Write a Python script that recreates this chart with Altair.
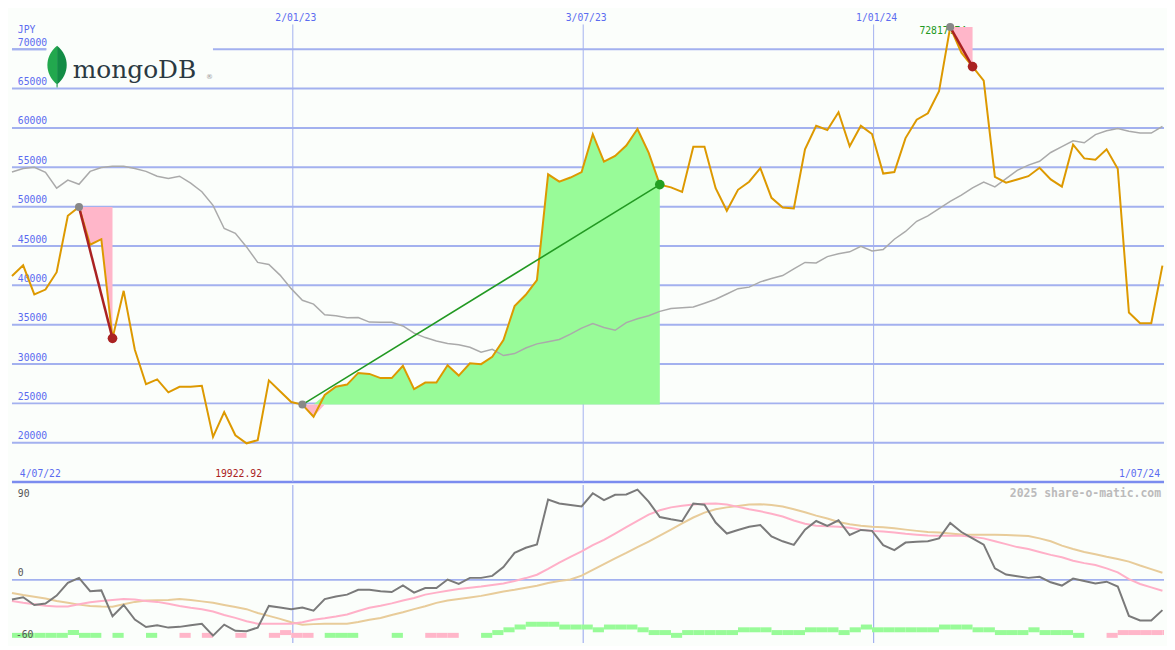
import altair as alt
import pandas as pd
import numpy as np

# ---------------- data ----------------
dates = [d.strftime("%Y-%m-%d") for d in pd.date_range("2022-07-10", periods=104, freq="7D")]
dates_next = dates[1:] + ["2024-07-08"]

price = [41180, 42540, 38840, 39460, 41670, 48850, 49960, 45160, 45860, 33260,
         39300, 31820, 27430, 28040, 26400, 27100, 27100, 27230, 20740, 23900,
         20950, 19922.92, 20330, 27920, 26530, 25170, 24850, 23310, 26070, 27110,
         27390, 28870, 28740, 28210, 28210, 29770, 26810, 27640, 27640, 29850,
         28530, 30100, 29980, 30920, 33050, 37360, 38800, 40650, 54110, 53170,
         53700, 54400, 59200, 55710, 56450, 57770, 59860, 56860, 52800, 52450,
         51860, 57600, 57600, 52350, 49470, 52140, 53170, 54890, 51120, 49890,
         49760, 57280, 60270, 59740, 61990, 57680, 60270, 59230, 54200, 54400,
         58710, 61050, 61870, 64660, 72817.74, 69570, 67800, 66000, 53780, 53040,
         53440, 53870, 54940, 53460, 52550, 57890, 56130, 55960, 57280, 54810,
         36540, 35180, 35180, 42500]

ma = [54400, 54850, 55010, 54360, 52350, 53370, 52840, 54480, 54970, 55130,
      55130, 54850, 54480, 53870, 53580, 53870, 53000, 51900, 50170, 47220,
      46600, 44880, 42910, 42660, 41300, 39580, 38100, 37610, 36260, 36130,
      35890, 35920, 35330, 35310, 35310, 34840, 33920, 33360, 32930, 32620,
      32440, 32130, 31510, 31880, 31080, 31330, 32030, 32560, 32840, 33120,
      33790, 34570, 35150, 34650, 34290, 35270, 35760, 36130, 36690, 37060,
      37140, 37240, 37730, 38230, 38900, 39580, 39770, 40440, 40870, 41240,
      42080, 42910, 42850, 43650, 44010, 44260, 44960, 44380, 44540, 45860,
      46850, 48140, 48820, 49740, 50660, 51460, 52390, 53130, 52510, 53560,
      54600, 55280, 55770, 56880, 57620, 58360, 58110, 59160, 59650, 59940,
      59590, 59350, 59350, 60210]

osc = [-18.6, -16.5, -23.8, -22.5, -14.9, -2.9, 1.9, -10.8, -10.0, -34.5,
       -23.8, -37.6, -44.8, -43.1, -45.3, -44.6, -43.1, -41.6, -52.9, -42.5,
       -48.3, -48.7, -45.3, -24.7, -26.2, -27.8, -26.2, -29.3, -18.3, -15.8,
       -14.0, -9.4, -9.4, -10.8, -11.5, -5.2, -12.1, -7.8, -7.8, 0.3,
       -3.9, 1.9, 1.9, 3.8, 12.2, 25.6, 30.5, 33.6, 76.2, 72.5,
       71.1, 69.7, 82.2, 75.7, 80.8, 81.0, 85.6, 74.3, 59.6, 57.5,
       55.7, 72.5, 71.3, 54.4, 44.0, 47.4, 50.4, 52.0, 41.2, 36.6,
       33.2, 47.7, 55.9, 51.3, 56.6, 42.6, 47.4, 46.5, 32.9, 28.3,
       35.4, 36.2, 36.6, 39.4, 54.1, 45.4, 39.4, 33.4, 10.9, 5.1,
       3.5, 1.9, 2.9, -2.3, -5.4, 1.2, -1.1, -3.4, -1.7, -6.3,
       -34.2, -38.5, -38.5, -28.7]

sig_fast = [-20.1, -21.8, -23.2, -24.5, -25.3, -25.3, -23.2, -21.3, -20.0, -19.0,
            -18.1, -18.6, -20.0, -20.9, -22.7, -24.7, -26.4, -27.8, -30.1, -33.3,
            -36.1, -39.3, -41.6, -41.6, -41.6, -41.6, -40.2, -37.9, -36.5, -34.8,
            -32.8, -29.6, -26.4, -24.6, -22.3, -19.5, -17.2, -14.0, -12.1, -10.3,
            -8.7, -7.5, -6.3, -4.8, -3.4, -1.1, 1.7, 4.9, 10.4, 16.4,
            21.9, 27.0, 32.9, 38.0, 44.0, 50.0, 55.9, 61.9, 66.1, 68.8,
            70.4, 71.6, 72.3, 72.5, 71.6, 69.3, 67.0, 65.1, 62.8, 60.1,
            56.4, 53.2, 51.3, 50.9, 50.4, 49.5, 47.7, 46.5, 45.8, 44.9,
            43.7, 42.8, 42.1, 41.9, 41.9, 41.9, 40.8, 39.4, 36.6, 33.9,
            31.1, 29.3, 26.5, 23.7, 21.4, 18.2, 15.9, 14.1, 10.9, 7.2,
            0.7, -3.9, -7.1, -10.3]

sig_slow = [-12.4, -14.4, -16.1, -17.7, -20.1, -21.8, -23.5, -24.7, -25.3, -25.5,
            -23.2, -20.9, -19.5, -19.3, -19.0, -18.1, -19.0, -20.4, -21.8, -23.8,
            -25.7, -27.8, -31.5, -34.2, -37.0, -40.2, -42.5, -42.0, -41.6, -41.6,
            -41.6, -40.0, -37.9, -36.1, -33.3, -30.8, -27.8, -25.0, -21.8, -19.5,
            -18.1, -16.7, -15.2, -13.1, -11.0, -9.4, -7.5, -5.5, -2.9, -1.1,
            0.3, 4.0, 9.5, 15.0, 20.5, 25.6, 31.1, 36.2, 42.1, 47.7,
            53.6, 59.2, 63.8, 67.0, 68.8, 70.2, 71.6, 71.8, 71.1, 69.7,
            67.0, 64.2, 61.0, 58.2, 55.0, 52.7, 51.3, 50.4, 49.9, 48.9,
            47.7, 46.5, 45.4, 44.9, 44.0, 43.1, 42.8, 42.8, 42.8, 42.5,
            42.1, 41.7, 39.4, 36.6, 32.5, 29.3, 26.5, 24.4, 21.9, 19.8,
            17.3, 13.6, 10.2, 6.7]

hist = [1, 1, 1, 1, 1, 2, 1, 1, 0, 1,
        0, 0, 1, 0, 0, -1, 0, -1, 0, 0,
        -1, 0, 0, -1, -2, -1, -1, 0, 1, 1,
        1, 0, 0, 0, 1, 0, 0, -1, -1, -1,
        0, 0, 1, 2, 3, 4, 5, 5, 5, 4,
        4, 4, 3, 4, 4, 4, 3, 2, 2, 1,
        2, 2, 2, 2, 2, 3, 3, 3, 2, 2,
        2, 3, 3, 3, 2, 3, 4, 3, 3, 3,
        3, 3, 3, 4, 4, 4, 3, 3, 2, 2,
        2, 3, 2, 2, 2, 1, 0, 0, -1, -2,
        -2, -2, -2, -2]

grid_levels = [20000, 25000, 30000, 35000, 40000, 45000, 50000, 55000, 60000, 65000, 70000]
grid_labels = ["20000", "25000", "30000", "35000", "40000", "45000", "50000",
               "55000", "60000", "65000", "70000"]
tick_dates = ["2023-01-02", "2023-07-03", "2024-01-01"]
tick_labels = ["2/01/23", "3/07/23", "1/01/24"]

# drawdown / run-up segments (indices into the weekly series)
dd_segments = [(6, 9), (84, 86)]
run_segment = (26, 58)

# ---------------- layout / style ----------------
W, HU, HL = 1159, 475, 159
SX = W / 1175
SY = (HU + HL) / 650


def px(v):
    return v * SX


def py(v):
    return v * SY


BG = "#fbfefb"
GRID = "#a3b1ef"
SEP = "#7b8cef"
LABEL = "#5b6cf0"
ORANGE = "#dd9900"
PINK = "#ffb6c9"
GREEN = "#98fb98"
DRED = "#aa2222"
MONO = "DejaVu Sans Mono"
FS = 9.8

XS = alt.Scale(type="utc", nice=False,
               domain=[alt.DateTime(year=2022, month=7, date=10, utc=True),
                       alt.DateTime(year=2024, month=7, date=1, utc=True)])
YU = alt.Scale(domain=[15000, 75000], nice=False, zero=False)
YL = alt.Scale(domain=[-60, 90], nice=False, zero=False)
YB = alt.Scale(domain=[0, 53.4], nice=False, zero=True)


def X(f="date"):
    return alt.X(f"{f}:T", scale=XS, axis=None)


def YUp(f):
    return alt.Y(f"{f}:Q", scale=YU, axis=None)


def YLo(f):
    return alt.Y(f"{f}:Q", scale=YL, axis=None)


df = pd.DataFrame({"date": dates, "date2": dates_next, "price": price, "ma": ma,
                   "osc": osc, "fast": sig_fast, "slow": sig_slow, "hist": hist})
df["hh"] = df["hist"].abs()
df["sign"] = ["pos" if h > 0 else "neg" for h in hist]
bars_df = df[df["hist"] != 0]

one = pd.DataFrame({"a": [0]})
ticks_df = pd.DataFrame({"date": tick_dates, "t": tick_labels})
grid_df = pd.DataFrame({"v": grid_levels, "t": grid_labels})

# run-up (green) area
r0, r1 = run_segment
run_df = df.iloc[r0:r1 + 1].copy()
base = price[r0]
run_df["base"] = base
run_df["hi"] = np.maximum(run_df["price"], base)
run_df["lo"] = np.minimum(run_df["price"], base)
run_line = pd.DataFrame({"date": [dates[r0], dates[r1]], "price": [price[r0], price[r1]]})

# drawdown areas
dd_frames = []
dd_line_rows = []
for gi, (a, b) in enumerate(dd_segments):
    f = df.iloc[a:b + 1].copy()
    f["peak"] = price[a]
    f["g"] = gi
    dd_frames.append(f)
    dd_line_rows += [{"date": dates[a], "price": price[a], "g": gi},
                     {"date": dates[b], "price": price[b], "g": gi}]
dd_df = pd.concat(dd_frames)
dd_lines = pd.DataFrame(dd_line_rows)

peaks = pd.DataFrame({"date": [dates[a] for a, _ in dd_segments] + [dates[r0]],
                      "price": [price[a] for a, _ in dd_segments] + [price[r0]]})
troughs = pd.DataFrame({"date": [dates[b] for _, b in dd_segments],
                        "price": [price[b] for _, b in dd_segments]})
run_end = pd.DataFrame({"date": [dates[r1]], "price": [price[r1]]})

imin = int(np.argmin(price))
imax = int(np.argmax(price))
min_df = pd.DataFrame({"date": [dates[imin]], "t": [f"{price[imin]:.2f}"]})
max_df = pd.DataFrame({"date": [dates[imax]], "price": [price[imax]], "t": [f"{price[imax]:.2f}"]})

# ---------------- upper panel ----------------
hgrid = alt.Chart(grid_df).mark_rule(color=GRID, strokeWidth=2).encode(y=YUp("v"))
sep = alt.Chart(pd.DataFrame({"v": [15000]})).mark_rule(color=SEP, strokeWidth=2.5).encode(y=YUp("v"))
vgrid_up = alt.Chart(ticks_df).mark_rule(color=GRID, strokeWidth=1).encode(
    x=X(), y=alt.value(py(15)), y2=alt.value(HU))

# white backing box of the logo (wide rectangle drawn as a custom symbol)
box_w = px(170)
logo_box = alt.Chart(one).mark_point(
    shape="M-1,-0.26 L1,-0.26 L1,0.26 L-1,0.26 Z", filled=True, fill=BG,
    strokeWidth=0, opacity=1, size=box_w ** 2).encode(
    x=alt.value(px(120)), y=alt.value(py(55)))
# short piece of the top gridline left of the logo box
top_stub = alt.Chart(grid_df[grid_df["v"] == 70000]).mark_rule(color=GRID, strokeWidth=2).encode(
    x=alt.value(0), x2=alt.value(px(35)), y=YUp("v"))

ylabels = alt.Chart(grid_df).mark_text(
    align="left", baseline="bottom", dy=-1.5, font=MONO, fontSize=FS, color=LABEL
).encode(x=alt.value(px(6)), y=YUp("v"), text="t:N")
jpy = alt.Chart(one).mark_text(text="JPY", align="left", baseline="middle", font=MONO,
                               fontSize=FS, color=LABEL).encode(
    x=alt.value(px(6)), y=alt.value(py(21)))
top_labels = alt.Chart(ticks_df).mark_text(baseline="middle", dx=3, font=MONO, fontSize=FS,
                                           color=LABEL).encode(
    x=X(), y=alt.value(py(8)), text="t:N")
start_label = alt.Chart(one).mark_text(text="4/07/22", align="left", baseline="middle",
                                       font=MONO, fontSize=FS, color=LABEL).encode(
    x=alt.value(px(8)), y=alt.value(py(479)))
end_label = alt.Chart(one).mark_text(text="1/07/24", align="right", baseline="middle",
                                     font=MONO, fontSize=FS, color=LABEL).encode(
    x=alt.value(px(1171)), y=alt.value(py(479)))
min_label = alt.Chart(min_df).mark_text(baseline="middle", dx=-8, font=MONO, fontSize=FS,
                                        color=DRED).encode(
    x=X(), y=alt.value(py(479)), text="t:N")
max_label = alt.Chart(max_df).mark_text(align="left", baseline="middle", dx=-31, dy=4,
                                        font=MONO, fontSize=FS, color="#229922").encode(
    x=X(), y=YUp("price"), text="t:N")

ma_line = alt.Chart(df).mark_line(color="#aaaaaa", strokeWidth=1.5).encode(x=X(), y=YUp("ma"))

run_green = alt.Chart(run_df).mark_area(color=GREEN, opacity=1).encode(
    x=X(), y=YUp("hi"), y2=alt.Y2("base"))
run_pink = alt.Chart(run_df.iloc[0:3]).mark_area(color=PINK, opacity=1).encode(
    x=X(), y=YUp("lo"), y2=alt.Y2("base"))
dd_area = alt.Chart(dd_df).mark_area(color=PINK, opacity=1).encode(
    x=X(), y=YUp("price"), y2=alt.Y2("peak"), detail="g:N")

price_line = alt.Chart(df).mark_line(color=ORANGE, strokeWidth=2).encode(x=X(), y=YUp("price"))

run_trend = alt.Chart(run_line).mark_line(color="#229922", strokeWidth=1.6).encode(
    x=X(), y=YUp("price"))
dd_trend = alt.Chart(dd_lines).mark_line(color=DRED, strokeWidth=2.5).encode(
    x=X(), y=YUp("price"), detail="g:N")

peak_dots = alt.Chart(peaks).mark_circle(color="#888888", size=65, opacity=1).encode(
    x=X(), y=YUp("price"))
trough_dots = alt.Chart(troughs).mark_circle(color=DRED, size=95, opacity=1).encode(
    x=X(), y=YUp("price"))
end_dot = alt.Chart(run_end).mark_circle(color="#22a022", size=95, opacity=1).encode(
    x=X(), y=YUp("price"))

leaf_left = alt.Chart(one).mark_point(
    shape="M0,-1 C-0.62,-0.5 -0.62,0.35 0,0.86 Z", filled=True, fill="#22a84e",
    strokeWidth=0, opacity=1, size=(43 * SY) ** 2).encode(
    x=alt.value(px(46)), y=alt.value(py(58.5)))
leaf_right = alt.Chart(one).mark_point(
    shape="M0,-1 C0.62,-0.5 0.62,0.35 0,0.86 Z M-0.03,0.84 L0.03,0.84 L0.02,1 L-0.02,1 Z",
    filled=True, fill="#128c45", strokeWidth=0, opacity=1, size=(43 * SY) ** 2).encode(
    x=alt.value(px(46)), y=alt.value(py(58.5)))
logo_text = alt.Chart(one).mark_text(
    text="mongoDB", font="DejaVu Serif", fontSize=25, color="#2b3942",
    align="left", baseline="alphabetic").encode(
    x=alt.value(px(62)), y=alt.value(py(70.5)))
logo_r = alt.Chart(one).mark_text(text="®", font="DejaVu Sans", fontSize=7, color="#999999",
                                  align="left", baseline="middle").encode(
    x=alt.value(px(198)), y=alt.value(py(69)))

upper = alt.layer(
    hgrid, sep, vgrid_up, logo_box, top_stub, ylabels, jpy, top_labels, start_label, end_label,
    min_label, max_label, run_green, run_pink, dd_area, ma_line, price_line,
    run_trend, dd_trend, peak_dots, trough_dots, end_dot,
    leaf_left, leaf_right, logo_text, logo_r
).properties(width=W, height=HU)

# ---------------- lower panel ----------------
vgrid_lo = alt.Chart(ticks_df).mark_rule(color=GRID, strokeWidth=1.2).encode(
    x=X(), y=alt.value(0), y2=alt.value(HL))
zero_line = alt.Chart(pd.DataFrame({"v": [0]})).mark_rule(color=GRID, strokeWidth=2).encode(
    y=YLo("v"))
slow_line = alt.Chart(df).mark_line(color="#e8cc9a", strokeWidth=2).encode(x=X(), y=YLo("slow"))
fast_line = alt.Chart(df).mark_line(color="#ffb0c8", strokeWidth=2).encode(x=X(), y=YLo("fast"))
osc_line = alt.Chart(df).mark_line(color="#7a7a7a", strokeWidth=2).encode(x=X(), y=YLo("osc"))
bars = alt.Chart(bars_df).mark_bar(clip=True, opacity=1).encode(
    x=X(), x2=alt.X2("date2"), y=alt.Y("hh:Q", scale=YB, axis=None),
    color=alt.Color("sign:N", scale=alt.Scale(domain=["pos", "neg"], range=[GREEN, PINK]),
                    legend=None))

lab90 = alt.Chart(pd.DataFrame({"v": [90], "t": ["90"]})).mark_text(
    align="left", baseline="top", dy=4, font=MONO, fontSize=FS, color="#555555").encode(
    x=alt.value(px(6)), y=YLo("v"), text="t:N")
lab0 = alt.Chart(pd.DataFrame({"v": [0], "t": ["0"]})).mark_text(
    align="left", baseline="bottom", dy=-2, font=MONO, fontSize=FS, color="#555555").encode(
    x=alt.value(px(6)), y=YLo("v"), text="t:N")
lab60 = alt.Chart(pd.DataFrame({"v": [-60], "t": ["-60"]})).mark_text(
    align="left", baseline="bottom", dy=-3, font=MONO, fontSize=FS, color="#555555").encode(
    x=alt.value(px(4)), y=YLo("v"), text="t:N")
watermark = alt.Chart(one).mark_text(
    text="2025 share-o-matic.com", align="right", baseline="middle", font=MONO,
    fontSize=11.5, fontWeight="bold", color="#bbbbbb").encode(
    x=alt.value(px(1172)), y=alt.value(py(9)))

lower = alt.layer(
    vgrid_lo, zero_line, bars, slow_line, fast_line, osc_line, lab90, lab0, lab60, watermark
).resolve_scale(y="independent").properties(width=W, height=HL)

chart = alt.vconcat(upper, lower, spacing=0, padding=0, background=BG).configure_view(stroke=None)

chart.save("out.html", embed_options={"renderer": "svg", "actions": False})
